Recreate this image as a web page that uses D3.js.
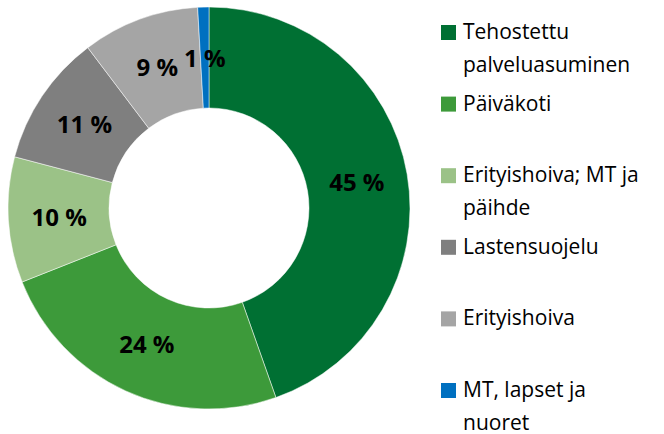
<!DOCTYPE html>
<html>
<head>
<meta charset="utf-8">
<script src="https://cdn.jsdelivr.net/npm/d3@7"></script>
<style>
  body { margin: 0; background: #fff; }
  text { font-family: "Open Sans", "DejaVu Sans", sans-serif; }
</style>
</head>
<body>
<div id="chart"></div>
<script>
// chart values (share of total, %)
const categories = ["Tehostettu palveluasuminen", "Päiväkoti", "Erityishoiva; MT ja päihde",
                    "Lastensuojelu", "Erityishoiva", "MT, lapset ja nuoret"];
const legendLines = [["Tehostettu", "palveluasuminen"], ["Päiväkoti"], ["Erityishoiva; MT ja", "päihde"],
                     ["Lastensuojelu"], ["Erityishoiva"], ["MT, lapset ja", "nuoret"]];
const values = [44.6, 24.4, 10.1, 10.6, 9.4, 0.9];
const colors = ["#007033", "#3D9A3A", "#9BC287", "#7F7F7F", "#A5A5A5", "#0070C0"];

const width = 664;
const height = 434;
const cx = 209, cy = 208;
const outerR = 201, innerR = 100;

const svg = d3.select("#chart")
  .append("svg")
  .attr("width", width)
  .attr("height", height);

const color = d3.scaleOrdinal().domain(categories).range(colors);

const pie = d3.pie().sort(null).value(d => d.value);
const data = categories.map((c, i) => ({name: c, value: values[i]}));

const arc = d3.arc().innerRadius(innerR).outerRadius(outerR);
const labelArc = d3.arc().innerRadius(150).outerRadius(150);

const g = svg.append("g").attr("transform", `translate(${cx},${cy})`);

g.selectAll("path")
  .data(pie(data))
  .enter()
  .append("path")
    .attr("d", arc)
    .attr("fill", d => color(d.data.name))
    .attr("stroke", "#fff")
    .attr("stroke-width", 0.5);

g.selectAll("text.lbl")
  .data(pie(data))
  .enter()
  .append("text")
    .attr("class", "lbl")
    .attr("transform", d => `translate(${labelArc.centroid(d)})`)
    .attr("text-anchor", "middle")
    .attr("dy", "0.36em")
    .attr("font-size", "24px")
    .attr("font-weight", "bold")
    .attr("fill", "#000")
    .text(d => Math.round(d.data.value) + " %");

// legend
const legend = svg.append("g");
const legY = d3.scaleLinear().domain([0, categories.length - 1]).range([40, 398]);

const items = legend.selectAll("g")
  .data(categories)
  .enter()
  .append("g")
    .attr("transform", (d, i) => `translate(441,${legY(i)})`);

items.append("rect")
  .attr("x", 0)
  .attr("y", -15)
  .attr("width", 15)
  .attr("height", 15)
  .attr("fill", d => color(d));

items.append("text")
  .attr("x", 22)
  .attr("y", -1)
  .attr("font-size", "21px")
  .attr("fill", "#000")
  .selectAll("tspan")
  .data((d, i) => legendLines[i])
  .enter()
  .append("tspan")
    .attr("x", 22)
    .attr("dy", (d, j) => j === 0 ? 0 : 33)
    .text(d => d);
</script>
</body>
</html>
